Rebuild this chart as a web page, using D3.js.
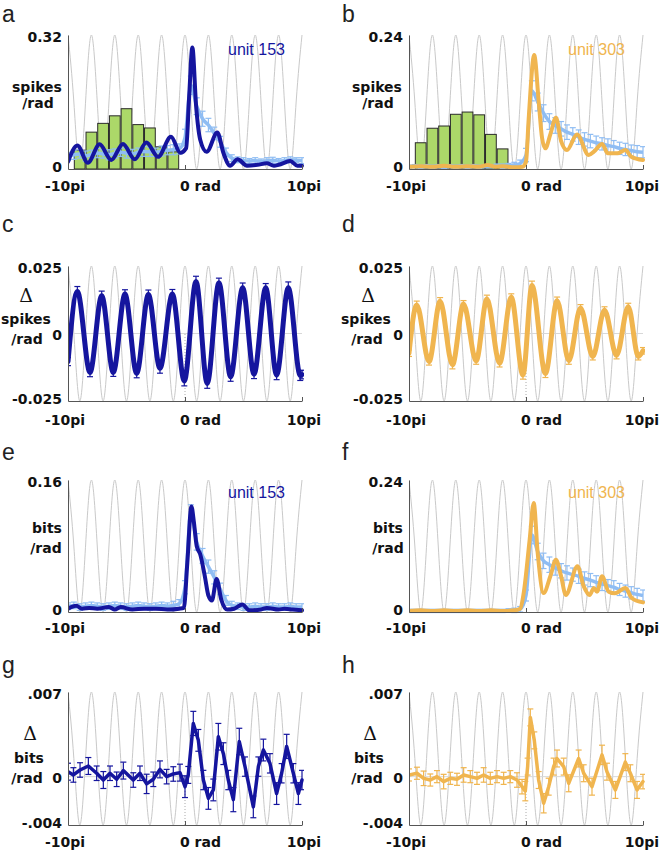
<!DOCTYPE html>
<html><head><meta charset="utf-8">
<script src="https://cdn.jsdelivr.net/npm/d3@7"></script>
<style>body{margin:0;background:#fff}svg{display:block}</style>
</head><body>
<svg id="chart" width="660" height="853"></svg>
<script>
// ---------- DATA (x in units of pi, from -10pi to 10pi) ----------
const stimY = [1,0,-1,0,1,0,-1,0,1,0,-1,0,1,0,-1,0,1,0,-1,0,1,0,-1,0,1,0,-1,0,1,0,-1,0,1,0,-1,0,1,0,-1,0,1];
const stimX = d3.range(-10, 10.001, 0.5);
const shufX = d3.range(-10, 10.001, 0.5);

// panel a (unit 153, spikes/rad)
const aX = [-10,-9.2,-8.3,-7.3,-6.3,-5.3,-4.3,-3.3,-2.3,-1.2,-0.4,0.1,0.35,0.63,0.95,1.3,1.85,2.76,3.3,3.85,4.5,5.3,6.2,7.0,7.6,8.0,9.0,9.6,10];
const aY = [0.0175,0.056,0.015,0.059,0.0215,0.060,0.023,0.063,0.029,0.077,0.039,0.050,0.170,0.290,0.150,0.070,0.041,0.087,0.037,0.008,0.023,0.008,0.010,0.0135,0.008,0.010,0.019,0.008,0.008];
const aShufY = [0.030,0.034,0.036,0.031,0.035,0.038,0.036,0.034,0.037,0.040,0.038,0.036,0.040,0.042,0.041,0.040,0.043,0.045,0.046,0.048,0.075,0.200,0.150,0.120,0.105,0.085,0.065,0.040,0.026,0.022,0.020,0.019,0.020,0.018,0.020,0.021,0.019,0.020,0.022,0.021,0.020];
const aShufE = [0.010,0.011,0.010,0.012,0.010,0.011,0.010,0.012,0.011,0.010,0.012,0.011,0.010,0.012,0.011,0.010,0.012,0.011,0.012,0.012,0.020,0.022,0.020,0.018,0.016,0.015,0.013,0.010,0.008,0.007,0.007,0.006,0.007,0.006,0.007,0.007,0.006,0.007,0.007,0.006,0.007];
const aBarX = [-9,-8,-7,-6,-5,-4,-3,-2,-1];
const aBarY = [0.045,0.088,0.109,0.127,0.144,0.106,0.098,0.053,0.041];

// panel b (unit 303, spikes/rad)
const bX = [-10,-9,-8,-7,-6,-5,-4,-3.3,-2.6,-2,-1,-0.3,0,0.23,0.7,1.08,1.37,1.65,2.08,2.56,3.0,3.5,4.36,5.36,5.8,6.5,7.0,7.8,8.5,9.0,10];
const bY = [0.004,0.005,0.004,0.006,0.004,0.005,0.004,0.007,0.004,0.005,0.003,0.004,0.013,0.090,0.204,0.122,0.056,0.037,0.062,0.092,0.050,0.034,0.062,0.025,0.031,0.045,0.028,0.028,0.034,0.022,0.016];
const bShufY = [0.004,0.005,0.004,0.005,0.004,0.005,0.004,0.005,0.004,0.005,0.004,0.005,0.004,0.005,0.005,0.006,0.005,0.006,0.007,0.010,0.025,0.140,0.120,0.100,0.085,0.078,0.072,0.066,0.062,0.057,0.053,0.050,0.047,0.045,0.042,0.040,0.037,0.035,0.033,0.031,0.030];
const bShufE = [0.003,0.003,0.003,0.003,0.003,0.003,0.003,0.003,0.003,0.003,0.003,0.003,0.003,0.003,0.003,0.003,0.004,0.004,0.005,0.006,0.012,0.018,0.016,0.015,0.014,0.014,0.013,0.013,0.012,0.013,0.012,0.012,0.012,0.011,0.012,0.011,0.011,0.011,0.010,0.011,0.010];
const bBarX = [-9,-8,-7,-6,-5,-4,-3,-2];
const bBarY = [0.047,0.073,0.077,0.098,0.102,0.097,0.062,0.036];

// panel c (unit 153, delta spikes/rad)
const cX = [-10,-9.2,-8.12,-7.12,-6.13,-5.13,-4.13,-3.13,-2.14,-1.08,-0.06,0.94,1.9,2.9,3.9,4.93,5.9,6.9,7.83,8.83,9.85,10];
const cY = [-0.0104,0.0156,-0.0144,0.0140,-0.0144,0.0146,-0.0148,0.0144,-0.0129,0.0146,-0.0176,0.0193,-0.0185,0.0188,-0.0160,0.0169,-0.0151,0.0169,-0.0154,0.0169,-0.0156,-0.0152];
const cE = [0.0015,0.0018,0.0016,0.0017,0.0015,0.0016,0.0016,0.0017,0.0018,0.0017,0.0018,0.0019,0.0018,0.0017,0.0017,0.0018,0.0016,0.0016,0.0017,0.0022,0.0018,0.0016];

// panel d (unit 303, delta spikes/rad)
const dX = [-10,-9.34,-8.29,-7.34,-6.29,-5.34,-4.26,-3.34,-2.26,-1.26,-0.26,0.51,1.66,2.66,3.66,4.66,5.71,6.71,7.74,8.74,9.6,10];
const dY = [-0.0073,0.0106,-0.0104,0.0119,-0.0116,0.0109,-0.0101,0.0128,-0.0110,0.0134,-0.0154,0.0178,-0.0148,0.0121,-0.0101,0.0094,-0.0085,0.0086,-0.0081,0.0099,-0.0085,-0.0064];
const dE = [0.0012,0.0014,0.0013,0.0014,0.0015,0.0013,0.0013,0.0014,0.0014,0.0013,0.0015,0.0016,0.0015,0.0014,0.0013,0.0013,0.0013,0.0013,0.0013,0.0013,0.0013,0.0012];

// panel e (unit 153, bits/rad)
const eX = [-10,-9.3,-8.8,-8.2,-7.5,-6.5,-6,-5.5,-4.5,-3.5,-2.5,-1.5,-0.5,-0.1,0.2,0.55,0.75,1.0,1.3,1.7,2.0,2.3,2.7,3.1,3.6,4.2,4.9,5.5,6.5,7.0,8.0,8.5,9.2,10];
const eY = [0.004,0.0075,0.004,0.005,0.004,0.006,0.003,0.006,0.003,0.004,0.004,0.003,0.004,0.005,0.060,0.128,0.110,0.080,0.070,0.043,0.020,0.014,0.040,0.015,0.003,0.004,0.009,0.002,0.003,0.005,0.003,0.004,0.003,0.002];
const eShufY = [0.007,0.008,0.006,0.007,0.008,0.007,0.006,0.007,0.008,0.007,0.006,0.007,0.008,0.007,0.006,0.007,0.008,0.007,0.008,0.010,0.030,0.120,0.085,0.068,0.055,0.042,0.028,0.014,0.008,0.007,0.006,0.006,0.007,0.006,0.006,0.007,0.006,0.006,0.007,0.006,0.006];
const eShufE = [0.004,0.004,0.004,0.004,0.004,0.004,0.004,0.004,0.004,0.004,0.004,0.004,0.004,0.004,0.004,0.004,0.004,0.004,0.005,0.005,0.008,0.010,0.010,0.009,0.008,0.008,0.007,0.006,0.005,0.004,0.004,0.004,0.004,0.004,0.004,0.004,0.004,0.004,0.004,0.004,0.004];

// panel f (unit 303, bits/rad)
const fX = [-10,-9,-8,-7,-6,-5,-4,-3,-2,-1,-0.5,-0.2,0.31,0.66,1.0,1.5,2.08,2.56,3.0,3.4,4.4,4.93,5.44,5.8,6.07,6.5,7.07,7.6,8.5,9.06,10];
const fY = [0.002,0.003,0.002,0.003,0.002,0.003,0.002,0.003,0.002,0.003,0.006,0.034,0.131,0.198,0.107,0.0345,0.065,0.095,0.065,0.031,0.083,0.047,0.031,0.0435,0.037,0.065,0.037,0.034,0.0435,0.025,0.0175];
const fShufY = [0.002,0.002,0.002,0.002,0.002,0.002,0.002,0.002,0.002,0.002,0.002,0.002,0.002,0.002,0.002,0.002,0.002,0.003,0.003,0.005,0.030,0.140,0.110,0.093,0.086,0.080,0.075,0.071,0.068,0.065,0.061,0.058,0.054,0.051,0.048,0.045,0.041,0.038,0.035,0.032,0.030];
const fShufE = [0.003,0.003,0.003,0.003,0.003,0.003,0.003,0.003,0.003,0.003,0.003,0.003,0.003,0.003,0.003,0.003,0.003,0.003,0.004,0.005,0.010,0.016,0.015,0.014,0.014,0.013,0.013,0.013,0.012,0.013,0.012,0.012,0.012,0.012,0.011,0.012,0.011,0.011,0.011,0.011,0.010];

// panel g (unit 153, delta bits/rad)
const gX = [-10,-9.54,-8.97,-8.26,-7.55,-6.98,-6.41,-5.84,-5.27,-4.42,-3.85,-3.28,-2.71,-2.14,-1.57,-1.0,-0.43,0,0.28,0.71,1.14,1.57,2.0,2.42,2.85,3.28,3.7,4.13,4.64,5.13,5.84,6.27,6.7,7.26,7.83,8.26,8.69,9.26,9.69,10];
const gY = [0.00041,0.00014,0.00055,0.00088,0.00028,-0.00028,0.00028,-0.00022,0.0005,-0.00028,0.00028,-0.0006,-0.00022,0.0006,0,0.00022,0.00033,-0.00083,0.00014,0.0044,0.003,-0.00028,-0.0018,-0.0011,0.0033,0.0019,-0.00028,-0.0019,0.0029,0.00083,-0.0025,0.00083,0.0022,0.0011,-0.0014,0.00028,0.0025,0.00028,-0.0014,-0.00028];
const gE = [0.0007,0.0006,0.0006,0.0007,0.0006,0.0007,0.0006,0.0006,0.0007,0.0006,0.0006,0.0008,0.0006,0.0007,0.0006,0.0006,0.0007,0.0009,0.0007,0.0010,0.0009,0.0008,0.0009,0.0009,0.0011,0.0009,0.0008,0.0010,0.0011,0.0008,0.0009,0.0008,0.0009,0.0008,0.0009,0.0008,0.0010,0.0008,0.0009,0.0008];

// panel h (unit 303, delta bits/rad)
const hX = [-10,-9.32,-8.75,-8.18,-7.61,-7.04,-6.47,-5.9,-5.33,-4.76,-4.19,-3.62,-3.05,-2.48,-1.91,-1.34,-0.77,-0.34,-0.06,0.14,0.37,0.71,1.08,1.51,1.94,2.36,2.65,3.22,3.65,4.5,4.93,5.64,6.5,6.92,7.64,8.49,8.92,9.49,10];
const hY = [0.00014,0.00028,-0.00014,-0.00028,0,-0.00041,-0.00014,-0.00022,0.00014,0,-0.00014,0.00014,-0.00014,0,-0.00014,0,-0.00028,-0.00083,-0.0012,0.00083,0.0049,0.003,-0.00028,-0.0022,-0.00083,0.00083,0.0015,0.00083,-0.00055,0.0015,0.00028,-0.00083,0.0018,0.00041,-0.0011,0.0012,0.00028,-0.0011,-0.00041];
const hE = [0.0005,0.0005,0.0006,0.0005,0.0005,0.0006,0.0005,0.0005,0.0006,0.0005,0.0005,0.0006,0.0005,0.0005,0.0005,0.0005,0.0006,0.0006,0.0008,0.0007,0.0007,0.0007,0.0007,0.0008,0.0007,0.0007,0.0007,0.0007,0.0007,0.0007,0.0007,0.0007,0.0008,0.0007,0.0007,0.0007,0.0007,0.0007,0.0006];

// ---------- DRAWING ----------
const BLUE = "#15159e", ORANGE = "#f0b54f", LBLUE = "#8fbdf3", GREEN = "#acd869", GRAY = "#c9c9c9";
const FB = "'DejaVu Sans', Verdana, sans-serif";
const svg = d3.select("#chart");
const cols = [{x0:68, x1:302}, {x0:409, x1:643}];
const rows = [{yt:35, yb:169, lab:191}, {yt:266, yb:401, lab:425}, {yt:480, yb:612, lab:633}, {yt:692, yb:825, lab:847}];

function txt(x, y, s, o = {}) {
  return svg.append("text").attr("x", x).attr("y", y).text(s)
    .attr("font-family", o.family || FB).attr("font-size", o.size || 14)
    .attr("font-weight", o.weight || "bold").attr("fill", o.fill || "#111")
    .attr("text-anchor", o.anchor || "start")
    .attr("dominant-baseline", o.base || "auto");
}

function errorBars(g, data, x, y, color, w, cap) {
  const eb = g.append("g").attr("stroke", color).attr("stroke-width", w);
  data.forEach(d => {
    const xx = x(d[0]), y1 = y(d[1] - d[2]), y2 = y(d[1] + d[2]);
    eb.append("line").attr("x1", xx).attr("x2", xx).attr("y1", y1).attr("y2", y2);
    eb.append("line").attr("x1", xx - cap).attr("x2", xx + cap).attr("y1", y1).attr("y2", y1);
    eb.append("line").attr("x1", xx - cap).attr("x2", xx + cap).attr("y1", y2).attr("y2", y2);
  });
}

function panel(p) {
  const c = cols[p.col], r = rows[p.row];
  const x = d3.scaleLinear().domain([-10, 10]).range([c.x0, c.x1]);
  const y = d3.scaleLinear().domain(p.yDom).range([r.yb, r.yt]);
  const ys = d3.scaleLinear().domain([-1, 1]).range([r.yb, r.yt]);
  const id = "clip" + p.name;
  svg.append("clipPath").attr("id", id).append("rect")
    .attr("x", c.x0).attr("y", r.yt - 12).attr("width", c.x1 - c.x0 + 2).attr("height", r.yb - r.yt + 14);
  const sclip = "clipS" + p.name;
  svg.append("clipPath").attr("id", sclip).append("rect")
    .attr("x", c.x0).attr("y", r.yt).attr("width", c.x1 - c.x0 + 1).attr("height", r.yb - r.yt);

  // stimulus
  svg.append("path").datum(stimX.map((v, i) => [v, stimY[i]]))
    .attr("clip-path", `url(#${sclip})`)
    .attr("d", d3.line().x(d => x(d[0])).y(d => ys(d[1])).curve(d3.curveNatural))
    .attr("fill", "none").attr("stroke", GRAY).attr("stroke-width", 1);

  // zero line
  if (p.yDom[0] < 0) {
    svg.append("line").attr("x1", c.x0).attr("x2", c.x1).attr("y1", y(0)).attr("y2", y(0))
      .attr("stroke", "#d8d8d8").attr("stroke-width", 1);
    svg.append("line").attr("x1", x(0)).attr("x2", x(0)).attr("y1", r.yb).attr("y2", y(0))
      .attr("stroke", "#aaa").attr("stroke-width", 1).attr("stroke-dasharray", "1,2");
  }
  const g = svg.append("g").attr("clip-path", `url(#${id})`);

  // histogram bars
  if (p.barX) {
    g.selectAll(null).data(p.barX.map((v, i) => [v, p.barY[i]])).join("rect")
      .attr("x", d => x(d[0] - 0.46)).attr("width", d => x(d[0] + 0.46) - x(d[0] - 0.46))
      .attr("y", d => y(d[1])).attr("height", d => y(0) - y(d[1]))
      .attr("fill", GREEN).attr("stroke", "#2a2a2a").attr("stroke-width", 1);
  }
  // control series with error bars
  if (p.shufY) {
    const sd = shufX.map((v, i) => [v, p.shufY[i], p.shufE[i]]);
    errorBars(g, sd, x, y, LBLUE, 1.2, 3);
    g.append("path").datum(sd)
      .attr("d", d3.line().x(d => x(d[0])).y(d => y(d[1])).curve(d3.curveMonotoneX))
      .attr("fill", "none").attr("stroke", LBLUE).attr("stroke-width", 3.5);
  }
  // main series
  const md = p.X.map((v, i) => [v, p.Y[i], p.E ? p.E[i] : 0]);
  if (p.E) errorBars(g, md, x, y, p.color, 1.2, 3);
  g.append("path").datum(md)
    .attr("d", d3.line().x(d => x(d[0])).y(d => y(d[1])).curve(p.curve))
    .attr("fill", "none").attr("stroke", p.color).attr("stroke-width", p.lw)
    .attr("stroke-linejoin", "round").attr("stroke-linecap", "round");

  // axes
  svg.append("g").attr("transform", `translate(0,${r.yb})`)
    .call(d3.axisBottom(x).tickValues([-10, 0, 10]).tickSize(-4).tickSizeOuter(0).tickFormat(""))
    .call(s => { s.select(".domain").attr("stroke", "#555"); s.selectAll(".tick line").attr("stroke", "#555"); });
  svg.append("g").attr("transform", `translate(${c.x0},0)`)
    .call(d3.axisLeft(y).tickValues([]).tickSizeOuter(0))
    .call(s => s.select(".domain").attr("stroke", "#555"));

  // tick labels
  txt(c.x0 - 6, r.yt + 2, p.yTop, {anchor: "end", base: "central"});
  txt(c.x0 - 6, r.yb - 2, p.yBot, {anchor: "end", base: "central"});
  if (p.yMid) txt(c.x0 - 6, y(0) + 1, p.yMid, {anchor: "end", base: "central"});
  txt(x(-10) - 3, r.lab, "-10pi", {anchor: "middle"});
  txt(x(0) - 5, r.lab, "0 rad");
  txt(Math.min(x(10) + 19, 659), r.lab, "10pi", {anchor: "end"});

  // axis title
  p.title.forEach(t => txt(t[0], t[1], t[2], {anchor: "middle", size: t[3] || 14, weight: t[4] || "bold", family: t[5]}));
  // panel letter
  txt(p.letter[0], p.letter[1], p.name, {family: "'Liberation Sans', Arial, sans-serif", size: 23, weight: "normal", fill: "#222"});
  if (p.unit) txt(p.unit[0], p.unit[1], p.unit[2], {family: "'Liberation Sans', Arial, sans-serif", size: 16, weight: "normal", fill: p.color});
}

const L = 26, R = 366, DF = "'DejaVu Serif', serif";
panel({name:"a", col:0, row:0, yDom:[0,0.32], yTop:"0.32", yBot:"0", X:aX, Y:aY, color:BLUE, lw:4, curve:d3.curveMonotoneX,
  shufY:aShufY, shufE:aShufE, barX:aBarX, barY:aBarY, letter:[2,22], unit:[228,55,"unit 153"],
  title:[[37,92,"spikes"],[38,108,"/rad"]]});
panel({name:"b", col:1, row:0, yDom:[0,0.24], yTop:"0.24", yBot:"0", X:bX, Y:bY, color:ORANGE, lw:4, curve:d3.curveMonotoneX,
  shufY:bShufY, shufE:bShufE, barX:bBarX, barY:bBarY, letter:[342,22], unit:[568,55,"unit 303"],
  title:[[377,92,"spikes"],[378,108,"/rad"]]});
panel({name:"c", col:0, row:1, yDom:[-0.025,0.025], yTop:"0.025", yBot:"-0.025", yMid:"0", X:cX, Y:cY, E:cE, color:BLUE, lw:5, curve:d3.curveMonotoneX,
  letter:[2,232], title:[[L,302,"\u0394",19,"normal",DF],[L,324,"spikes"],[L+1,344,"/rad"]]});
panel({name:"d", col:1, row:1, yDom:[-0.025,0.025], yTop:"0.025", yBot:"-0.025", yMid:"0", X:dX, Y:dY, E:dE, color:ORANGE, lw:5, curve:d3.curveMonotoneX,
  letter:[342,232], title:[[R+2,302,"\u0394",19,"normal",DF],[R,324,"spikes"],[R+1,344,"/rad"]]});
panel({name:"e", col:0, row:2, yDom:[0,0.16], yTop:"0.16", yBot:"0", X:eX, Y:eY, color:BLUE, lw:4, curve:d3.curveMonotoneX,
  shufY:eShufY, shufE:eShufE, letter:[2,460], unit:[228,498,"unit 153"],
  title:[[47,533,"bits"],[46,553,"/rad"]]});
panel({name:"f", col:1, row:2, yDom:[0,0.24], yTop:"0.24", yBot:"0", X:fX, Y:fY, color:ORANGE, lw:4, curve:d3.curveMonotoneX,
  shufY:fShufY, shufE:fShufE, letter:[342,460], unit:[568,498,"unit 303"],
  title:[[388,533,"bits"],[388,553,"/rad"]]});
panel({name:"g", col:0, row:3, yDom:[-0.004,0.007], yTop:".007", yBot:"-.004", yMid:"0", X:gX, Y:gY, E:gE, color:BLUE, lw:3.5, curve:d3.curveLinear,
  letter:[2,673], title:[[30,740,"\u0394",19,"normal",DF],[29,763,"bits"],[27,783,"/rad"]]});
panel({name:"h", col:1, row:3, yDom:[-0.004,0.007], yTop:".007", yBot:"-.004", yMid:"0", X:hX, Y:hY, E:hE, color:ORANGE, lw:3.5, curve:d3.curveLinear,
  letter:[342,673], title:[[370,740,"\u0394",19,"normal",DF],[369,763,"bits"],[367,783,"/rad"]]});
</script>
</body></html>
